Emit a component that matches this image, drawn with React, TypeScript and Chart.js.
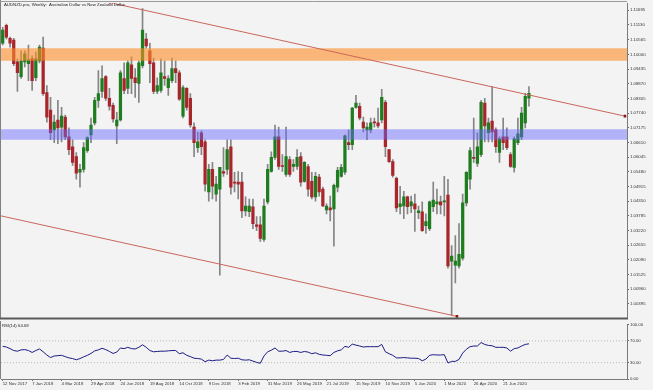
import React, { useEffect, useRef } from "react";
import { Chart, registerables } from "chart.js";

Chart.register(...registerables);

// ---------- DATA (weekly candles, AUDNZD, from 12 Nov 2017) ----------
const opens = [
  1.1043, 1.1112, 1.1062, 1.1055, 1.0971, 1.0914, 1.0971, 1.0964, 1.0983, 1.0910,
  1.0975, 1.1024, 1.0853, 1.0785, 1.0709, 1.0747, 1.0720, 1.0758, 1.0682, 1.0644,
  1.0606, 1.0546, 1.0557, 1.0629, 1.0690, 1.0736, 1.0823, 1.0857, 1.0914, 1.0831,
  1.0804, 1.0724, 1.0747, 1.0907, 1.0869, 1.0960, 1.0910, 1.0888, 1.0956, 1.1059,
  1.1013, 1.0967, 1.0857, 1.0861, 1.0914, 1.0872, 1.0899, 1.0945, 1.0929, 1.0762,
  1.0869, 1.0831, 1.0720, 1.0641, 1.0698, 1.0663, 1.0470, 1.0557, 1.0462, 1.0481,
  1.0549, 1.0557, 1.0644, 1.0508, 1.0508, 1.0508, 1.0397, 1.0394, 1.0413, 1.0344,
  1.0344, 1.0287, 1.0432, 1.0549, 1.0603, 1.0682, 1.0572, 1.0538, 1.0595, 1.0568,
  1.0568, 1.0606, 1.0511, 1.0568, 1.0511, 1.0451, 1.0527, 1.0481, 1.0401, 1.0409,
  1.0405, 1.0489, 1.0530, 1.0546, 1.0660, 1.0652, 1.0796, 1.0800, 1.0739, 1.0709,
  1.0709, 1.0739, 1.0736, 1.0747, 1.0815, 1.0633, 1.0587, 1.0523, 1.0413, 1.0416,
  1.0451, 1.0416, 1.0424, 1.0390, 1.0394, 1.0340, 1.0329, 1.0413, 1.0424, 1.0432,
  1.0432, 1.0458, 1.0204, 1.0188, 1.0185, 1.0215, 1.0428, 1.0519, 1.0603, 1.0580,
  1.0614, 1.0812, 1.0698, 1.0743, 1.0709, 1.0622, 1.0682, 1.0682, 1.0614, 1.0565,
  1.0660, 1.0682, 1.0736, 1.0831,
];
const highs = [
  1.1104, 1.1116, 1.1066, 1.1062, 1.0983, 1.1013, 1.1013, 1.1036, 1.0994, 1.1009,
  1.1036, 1.1066, 1.0880, 1.0834, 1.0766, 1.0823, 1.0796, 1.0766, 1.0717, 1.0671,
  1.0622, 1.0576, 1.0660, 1.0682, 1.0755, 1.0834, 1.0937, 1.0956, 1.0918, 1.0869,
  1.0812, 1.0777, 1.0937, 1.0967, 1.0975, 1.0990, 1.0945, 1.0975, 1.1176, 1.1081,
  1.1043, 1.0986, 1.0910, 1.0983, 1.0975, 1.0918, 1.0986, 1.0975, 1.0937, 1.0880,
  1.0872, 1.0849, 1.0736, 1.0701, 1.0705, 1.0671, 1.0576, 1.0584, 1.0530, 1.0565,
  1.0641, 1.0671, 1.0671, 1.0546, 1.0549, 1.0546, 1.0451, 1.0443, 1.0443, 1.0375,
  1.0375, 1.0443, 1.0576, 1.0625, 1.0728, 1.0720, 1.0614, 1.0720, 1.0606, 1.0595,
  1.0633, 1.0622, 1.0587, 1.0576, 1.0546, 1.0546, 1.0538, 1.0489, 1.0424, 1.0454,
  1.0500, 1.0565, 1.0576, 1.0690, 1.0709, 1.0796, 1.0842, 1.0812, 1.0758, 1.0736,
  1.0755, 1.0755, 1.0793, 1.0865, 1.0823, 1.0633, 1.0595, 1.0527, 1.0492, 1.0473,
  1.0454, 1.0454, 1.0462, 1.0416, 1.0432, 1.0386, 1.0435, 1.0508, 1.0481, 1.0454,
  1.0530, 1.0519, 1.0264, 1.0302, 1.0348, 1.0462, 1.0549, 1.0641, 1.0755, 1.0698,
  1.0823, 1.0831, 1.0755, 1.0876, 1.0717, 1.0682, 1.0755, 1.0717, 1.0622, 1.0682,
  1.0755, 1.0796, 1.0850, 1.0876,
];
const lows = [
  1.1036, 1.1059, 1.1028, 1.0956, 1.0857, 1.0907, 1.0952, 1.0899, 1.0861, 1.0899,
  1.0967, 1.0842, 1.0739, 1.0671, 1.0660, 1.0656, 1.0663, 1.0671, 1.0614, 1.0572,
  1.0519, 1.0489, 1.0546, 1.0622, 1.0660, 1.0728, 1.0796, 1.0834, 1.0823, 1.0785,
  1.0739, 1.0656, 1.0743, 1.0849, 1.0849, 1.0849, 1.0834, 1.0815, 1.0948, 1.1024,
  1.0891, 1.0849, 1.0849, 1.0853, 1.0880, 1.0842, 1.0891, 1.0891, 1.0823, 1.0755,
  1.0785, 1.0720, 1.0606, 1.0622, 1.0614, 1.0473, 1.0435, 1.0443, 1.0435, 1.0150,
  1.0530, 1.0538, 1.0462, 1.0470, 1.0443, 1.0371, 1.0378, 1.0375, 1.0329, 1.0321,
  1.0280, 1.0280, 1.0424, 1.0546, 1.0595, 1.0557, 1.0549, 1.0530, 1.0530, 1.0549,
  1.0557, 1.0492, 1.0508, 1.0454, 1.0443, 1.0435, 1.0454, 1.0413, 1.0386, 1.0359,
  1.0261, 1.0470, 1.0527, 1.0538, 1.0633, 1.0633, 1.0793, 1.0747, 1.0701, 1.0671,
  1.0698, 1.0720, 1.0717, 1.0736, 1.0606, 1.0584, 1.0527, 1.0394, 1.0386, 1.0367,
  1.0386, 1.0390, 1.0318, 1.0367, 1.0318, 1.0310, 1.0321, 1.0394, 1.0386, 1.0386,
  1.0378, 1.0177, 0.9995, 1.0120, 1.0177, 1.0207, 1.0416, 1.0481, 1.0584, 1.0568,
  1.0606, 1.0663, 1.0663, 1.0663, 1.0622, 1.0584, 1.0633, 1.0633, 1.0565, 1.0546,
  1.0652, 1.0671, 1.0717, 1.0800,
];
const closes = [
  1.1093, 1.1066, 1.1043, 1.0964, 1.0929, 1.0975, 1.1002, 1.0979, 1.0899, 1.0983,
  1.1028, 1.0849, 1.0758, 1.0698, 1.0739, 1.0717, 1.0762, 1.0682, 1.0633, 1.0584,
  1.0542, 1.0557, 1.0641, 1.0679, 1.0728, 1.0823, 1.0849, 1.0907, 1.0831, 1.0800,
  1.0751, 1.0747, 1.0929, 1.0861, 1.0967, 1.0907, 1.0891, 1.0967, 1.1093, 1.1032,
  1.0964, 1.0857, 1.0880, 1.0929, 1.0907, 1.0907, 1.0945, 1.0929, 1.0827, 1.0872,
  1.0796, 1.0728, 1.0660, 1.0663, 1.0644, 1.0500, 1.0557, 1.0492, 1.0500, 1.0565,
  1.0542, 1.0633, 1.0489, 1.0504, 1.0500, 1.0397, 1.0416, 1.0416, 1.0348, 1.0337,
  1.0291, 1.0416, 1.0557, 1.0603, 1.0682, 1.0568, 1.0568, 1.0606, 1.0538, 1.0576,
  1.0603, 1.0508, 1.0584, 1.0481, 1.0451, 1.0530, 1.0470, 1.0416, 1.0416, 1.0401,
  1.0496, 1.0553, 1.0565, 1.0686, 1.0652, 1.0793, 1.0812, 1.0755, 1.0717, 1.0720,
  1.0736, 1.0736, 1.0724, 1.0834, 1.0644, 1.0587, 1.0534, 1.0409, 1.0424, 1.0451,
  1.0413, 1.0432, 1.0405, 1.0397, 1.0321, 1.0356, 1.0432, 1.0439, 1.0432, 1.0420,
  1.0435, 1.0185, 1.0223, 1.0204, 1.0230, 1.0428, 1.0546, 1.0629, 1.0599, 1.0644,
  1.0815, 1.0724, 1.0736, 1.0701, 1.0644, 1.0675, 1.0660, 1.0641, 1.0568, 1.0675,
  1.0694, 1.0774, 1.0838, 1.0850,
];
const rsi14 = [
  60.0, 58.8, 55.8, 52.3, 51.1, 53.5, 54.1, 52.3, 48.8, 52.3,
  55.2, 50.0, 44.1, 39.4, 42.3, 42.9, 43.5, 41.1, 38.8, 37.6,
  35.3, 37.6, 40.6, 43.5, 47.0, 51.7, 53.5, 56.4, 54.1, 50.6,
  47.0, 49.4, 57.0, 55.8, 58.2, 55.8, 55.2, 58.2, 62.9, 58.2,
  52.3, 50.0, 50.6, 51.1, 51.1, 51.7, 52.3, 52.3, 46.5, 48.2,
  43.5, 41.1, 38.2, 37.6, 36.5, 31.8, 34.7, 33.5, 34.7, 34.7,
  35.9, 44.1, 38.2, 37.6, 38.2, 35.3, 34.7, 35.3, 32.9, 30.6,
  28.8, 42.3, 50.0, 52.9, 57.0, 51.1, 51.1, 52.3, 48.8, 50.6,
  50.6, 48.8, 50.6, 49.4, 46.5, 48.2, 45.3, 44.1, 43.5, 42.9,
  48.8, 51.7, 53.5, 60.0, 58.2, 64.1, 62.3, 60.6, 58.8, 59.4,
  59.4, 59.4, 59.4, 63.5, 50.0, 46.5, 43.5, 38.8, 38.8, 39.4,
  38.8, 38.2, 38.2, 37.6, 33.5, 36.5, 43.5, 44.7, 44.1, 44.1,
  44.7, 29.4, 32.4, 32.4, 35.9, 47.6, 54.7, 59.4, 60.6, 60.6,
  67.0, 63.5, 61.7, 61.1, 58.2, 58.2, 58.2, 57.0, 51.1, 55.8,
  57.0, 60.6, 63.5, 64.69,
];
const dateTickWeeks = [0, 8, 16, 24, 32, 40, 48, 56, 64, 72, 80, 88, 96, 104, 112, 120, 128, 136];
const dateLabels = [
  "12 Nov 2017", "7 Jan 2018", "4 Mar 2018", "29 Apr 2018", "24 Jun 2018", "19 Aug 2018",
  "14 Oct 2018", "9 Dec 2018", "3 Feb 2019", "31 Mar 2019", "26 May 2019", "21 Jul 2019",
  "15 Sep 2019", "10 Nov 2019", "5 Jan 2020", "1 Mar 2020", "26 Apr 2020", "21 Jun 2020",
];
const priceTicks = [
  1.00395, 1.0096, 1.01525, 1.0209, 1.02655, 1.0322, 1.03785, 1.0435, 1.04915, 1.0548,
  1.06045, 1.0661, 1.07175, 1.0774, 1.08305, 1.0887, 1.09435, 1.1, 1.10565, 1.1113, 1.11695,
];
const rsiTicks = [0, 30, 70, 100];
const rsiLevels = [30, 70];
const supplyZone = [1.0975, 1.10233];
const demandZone = [1.0671, 1.07117];
const upperTrendWeeks = [29.16, 169.1];
const upperTrendPrices = [1.1199, 1.0762];
const lowerTrendWeeks = [-0.46, 123.45];
const lowerTrendPrices = [1.0378, 0.9991];

// ---------- LAYOUT / STYLE ----------
const X_MIN = -0.46;
const X_MAX = 169.65;
const PRICE_MIN = 0.99832;
const PRICE_MAX = 1.11954;
const BG = "#f3f3f3";
const BULL = "#1f7d1f";
const BEAR = "#a8262b";
const FONT = { family: "'Liberation Sans', Arial, sans-serif", size: 4.3 };

const framePlugin = {
  id: "frame",
  afterDraw(chart: any, _args: any, opts: any) {
    const { ctx, chartArea: a } = chart;
    ctx.save();
    ctx.strokeStyle = "#808080";
    ctx.lineWidth = 1;
    ctx.beginPath();
    ctx.moveTo(0.5, 0);
    ctx.lineTo(0.5, a.bottom);
    ctx.stroke();
    if (opts && opts.top) {
      ctx.strokeStyle = "#9a9a9a";
      ctx.beginPath();
      ctx.moveTo(0, 1.5);
      ctx.lineTo(a.right, 1.5);
      ctx.stroke();
    }
    if (opts && opts.bottom) {
      ctx.strokeStyle = "#5a5a5a";
      ctx.lineWidth = 2;
      ctx.beginPath();
      ctx.moveTo(0, a.bottom);
      ctx.lineTo(a.right + 1, a.bottom);
      ctx.stroke();
    }
    ctx.restore();
  },
};

export default function App() {
  const priceRef = useRef<HTMLCanvasElement | null>(null);
  const rsiRef = useRef<HTMLCanvasElement | null>(null);

  useEffect(() => {
    const bodyColors = opens.map((o, i) => (closes[i] >= o ? BULL : BEAR));
    const zone = (z: number[], color: string) => ({
      type: "line" as const,
      data: [
        { x: X_MIN, y: z[1] },
        { x: X_MAX, y: z[1] },
      ],
      borderWidth: 0,
      pointRadius: 0,
      fill: { value: z[0] },
      backgroundColor: color,
      order: 1,
    });

    const priceChart = new Chart(priceRef.current as HTMLCanvasElement, {
      type: "bar",
      data: {
        datasets: [
          {
            type: "line",
            label: "upper trend",
            data: upperTrendWeeks.map((w, i) => ({ x: w, y: upperTrendPrices[i] })),
            borderColor: "#c9675c",
            borderWidth: 1,
            pointRadius: [1.8, 1.8],
            pointStyle: "rect",
            pointBackgroundColor: "#8c1414",
            pointBorderWidth: 0,
            order: 0,
          } as any,
          {
            type: "line",
            label: "lower trend",
            data: lowerTrendWeeks.map((w, i) => ({ x: w, y: lowerTrendPrices[i] })),
            borderColor: "#c9675c",
            borderWidth: 1,
            pointRadius: [0, 1.8],
            pointStyle: "rect",
            pointBackgroundColor: "#8c1414",
            pointBorderWidth: 0,
            order: 0,
          } as any,
          zone(supplyZone, "rgba(255,140,40,0.6)") as any,
          zone(demandZone, "rgba(100,100,255,0.45)") as any,
          {
            type: "bar",
            label: "bodies",
            data: opens.map((o, i) => ({ x: i, y: [o, closes[i]] })),
            backgroundColor: bodyColors,
            barThickness: 2.6,
            minBarLength: 1,
            grouped: false,
            order: 2,
          } as any,
          {
            type: "bar",
            label: "wicks",
            data: lows.map((l, i) => ({ x: i, y: [l, highs[i]] })),
            backgroundColor: "#858585",
            barThickness: 1,
            grouped: false,
            order: 3,
          } as any,
        ],
      },
      options: {
        responsive: false,
        maintainAspectRatio: false,
        animation: false,
        events: [],
        layout: { autoPadding: false, padding: { left: 1, top: 2, right: 0, bottom: 1 } },
        plugins: {
          legend: { display: false },
          tooltip: { enabled: false },
          frame: { top: true, bottom: true },
        } as any,
        scales: {
          x: { type: "linear", min: X_MIN, max: X_MAX, display: false, offset: false },
          y: {
            type: "linear",
            position: "right",
            min: PRICE_MIN,
            max: PRICE_MAX,
            afterBuildTicks: (s: any) => {
              s.ticks = priceTicks.map((v) => ({ value: v }));
            },
            afterFit: (s: any) => {
              s.width = 26;
            },
            ticks: {
              callback: (v: any) => Number(v).toFixed(5),
              font: FONT,
              color: "#333",
              padding: 1,
              autoSkip: false,
            },
            grid: { drawOnChartArea: false, tickLength: 2, tickColor: "#666" },
            border: { color: "#7a7a7a" },
          },
        },
      } as any,
      plugins: [framePlugin],
    });

    const rsiChart = new Chart(rsiRef.current as HTMLCanvasElement, {
      type: "line",
      data: {
        datasets: [
          {
            label: "RSI(14)",
            data: rsi14.map((v, i) => ({ x: i, y: v })),
            borderColor: "#1b1b84",
            borderWidth: 1,
            pointRadius: 0,
            tension: 0,
            order: 0,
          },
          ...rsiLevels.map((lvl) => ({
            label: "level " + lvl,
            data: [
              { x: X_MIN, y: lvl },
              { x: X_MAX, y: lvl },
            ],
            borderColor: "#b8b8b8",
            borderWidth: 1,
            borderDash: [1, 2],
            pointRadius: 0,
            order: 1,
          })),
        ],
      },
      options: {
        responsive: false,
        maintainAspectRatio: false,
        animation: false,
        events: [],
        layout: { autoPadding: false, padding: { left: 1, top: 1, right: 0, bottom: 0 } },
        plugins: {
          legend: { display: false },
          tooltip: { enabled: false },
          frame: { top: false, bottom: false },
        } as any,
        scales: {
          x: {
            type: "linear",
            min: X_MIN,
            max: X_MAX,
            offset: false,
            afterBuildTicks: (s: any) => {
              s.ticks = dateTickWeeks.map((v) => ({ value: v }));
            },
            afterFit: (s: any) => {
              s.height = 11;
            },
            ticks: {
              callback: (_v: any, i: number) => dateLabels[i],
              align: "start",
              font: FONT,
              color: "#333",
              padding: 0,
              autoSkip: false,
              maxRotation: 0,
              minRotation: 0,
            },
            grid: { drawOnChartArea: false, tickLength: 2, tickColor: "#777" },
            border: { color: "#7a7a7a" },
          },
          y: {
            type: "linear",
            position: "right",
            min: 0,
            max: 100,
            afterBuildTicks: (s: any) => {
              s.ticks = rsiTicks.map((v) => ({ value: v }));
            },
            afterFit: (s: any) => {
              s.width = 26;
            },
            ticks: {
              callback: (v: any) => Number(v).toFixed(2),
              font: FONT,
              color: "#333",
              padding: 1,
              autoSkip: false,
            },
            grid: { drawOnChartArea: false, tickLength: 2, tickColor: "#666" },
            border: { color: "#7a7a7a" },
          },
        },
      } as any,
      plugins: [framePlugin],
    });

    return () => {
      priceChart.destroy();
      rsiChart.destroy();
    };
  }, []);

  const textStyle: React.CSSProperties = {
    position: "absolute",
    fontFamily: "'Liberation Sans', Arial, sans-serif",
    fontSize: "4.3px",
    lineHeight: 1,
    color: "#1a1a1a",
    whiteSpace: "pre",
  };

  return (
    <div
      style={{
        position: "fixed",
        left: 0,
        top: 0,
        width: 653,
        height: 390,
        background: BG,
        overflow: "hidden",
      }}
    >
      <canvas
        ref={priceRef}
        width={653}
        height={322}
        style={{ position: "absolute", left: 0, top: 0, width: 653, height: 322 }}
      />
      <canvas
        ref={rsiRef}
        width={653}
        height={69}
        style={{ position: "absolute", left: 0, top: 321, width: 653, height: 69 }}
      />
      <div style={{ ...textStyle, left: 4, top: 3 }}>
        {"AUDNZD.pro, Weekly:  Australian Dollar vs New Zealand Dollar"}
      </div>
      <div style={{ ...textStyle, left: 2, top: 324 }}>{"RSI(14) 64.69"}</div>
    </div>
  );
}
